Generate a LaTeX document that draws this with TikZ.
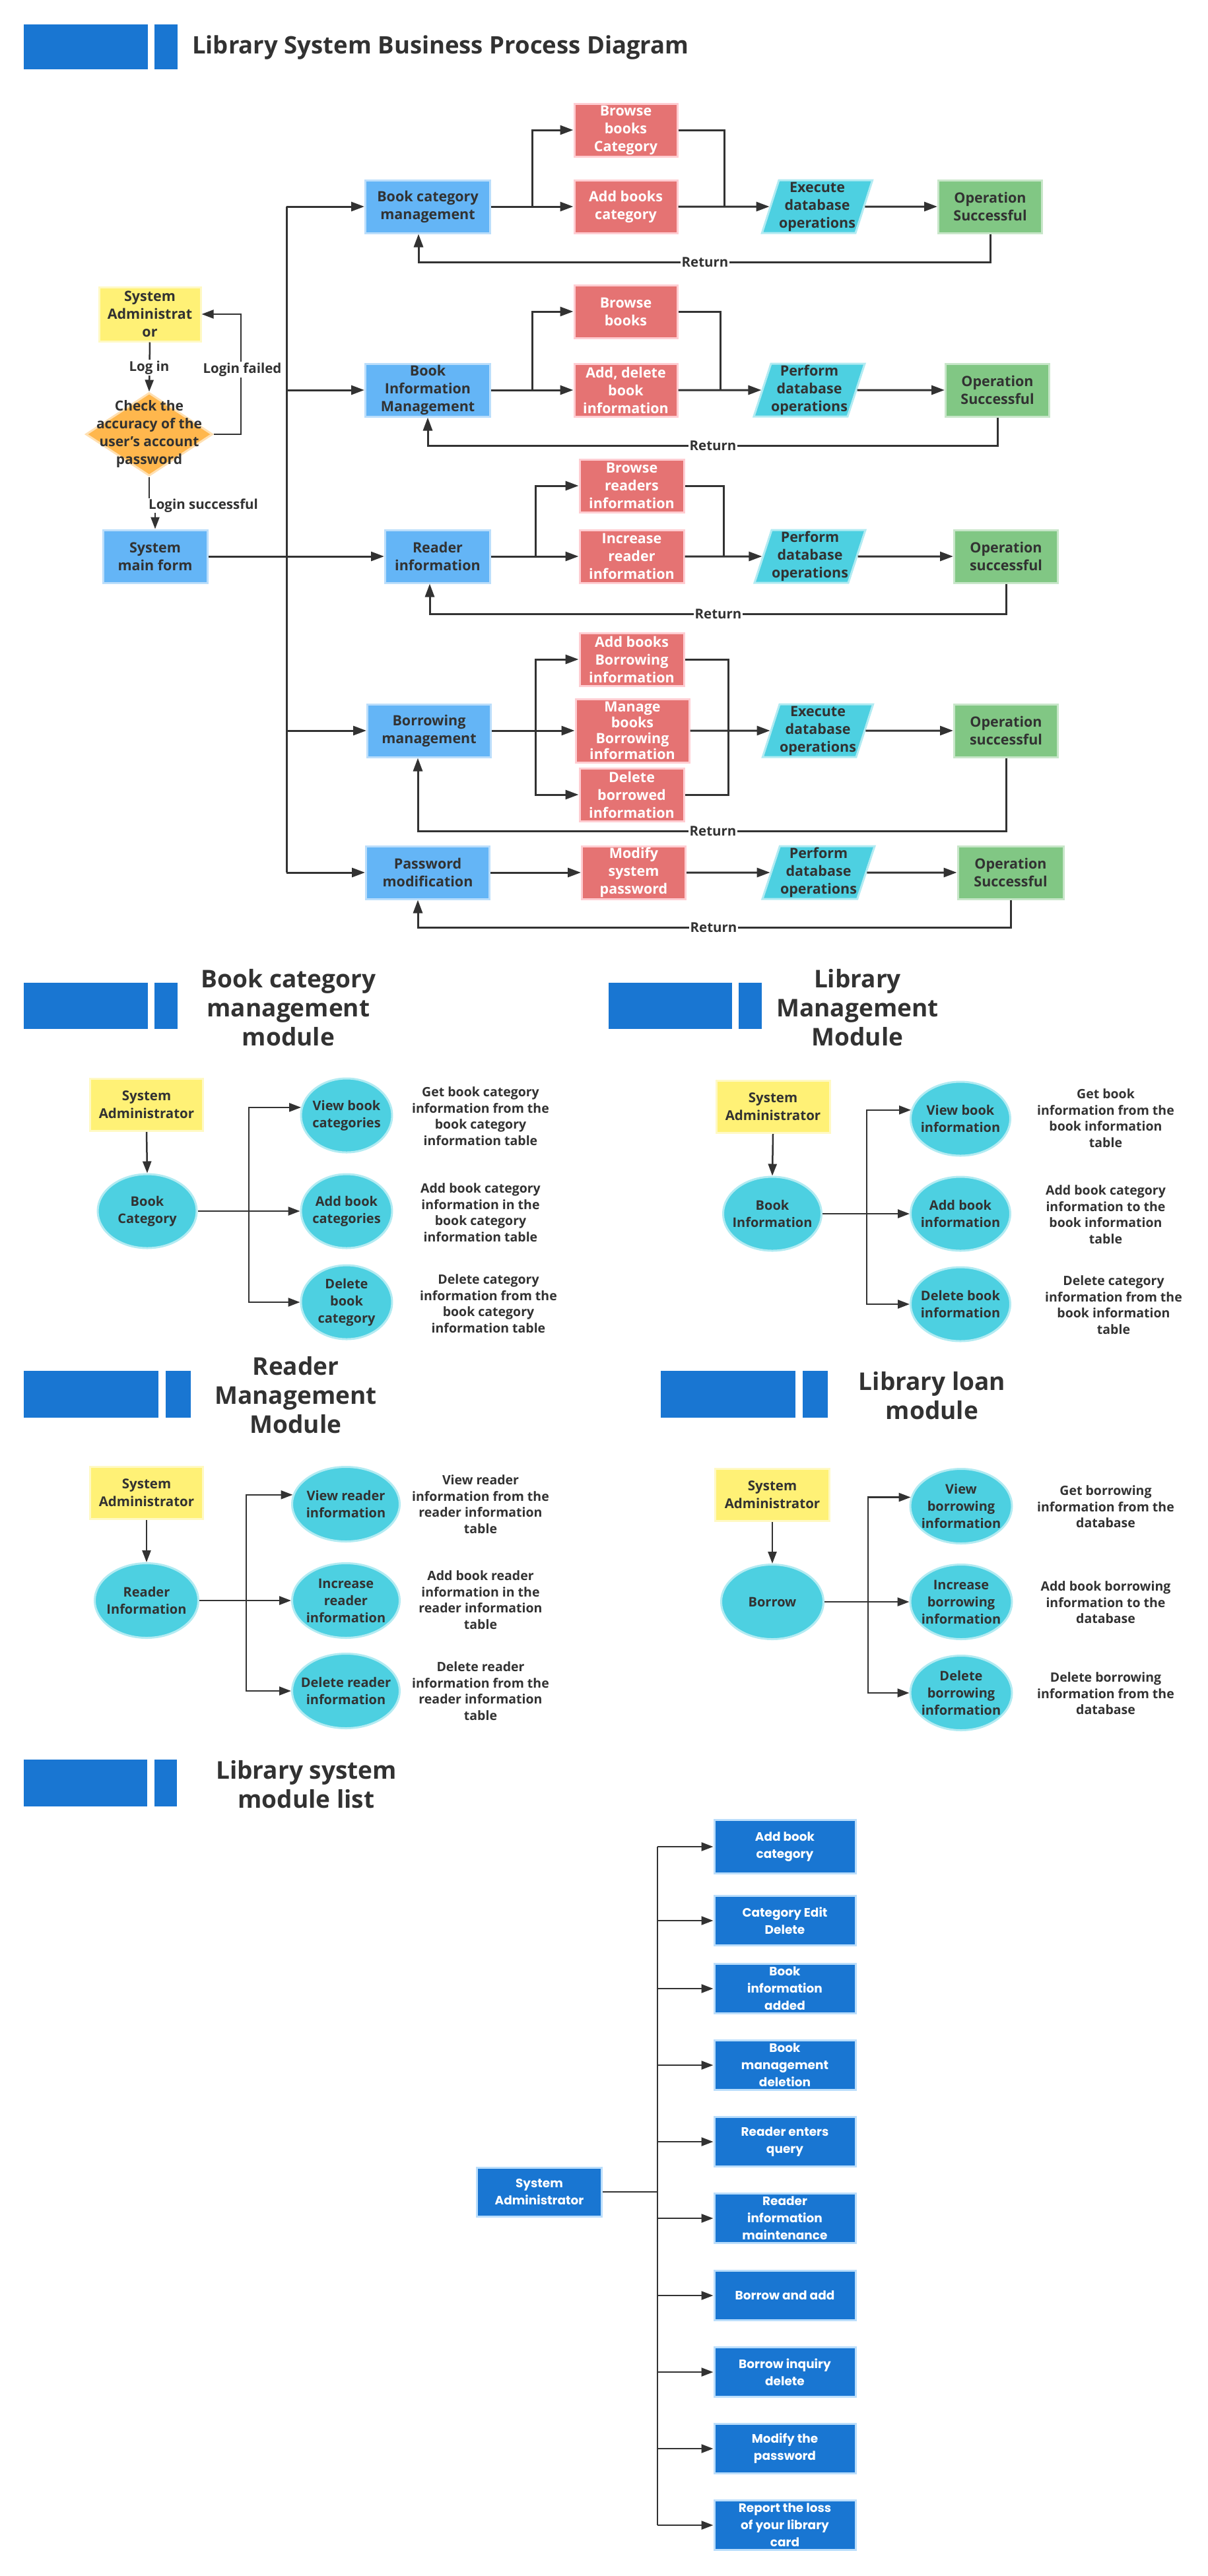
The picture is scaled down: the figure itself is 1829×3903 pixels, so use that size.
\documentclass[tikz,border=0pt]{standalone}
\usepackage{fontspec}
\setmainfont{Open Sans}
\newfontfamily\mlfont{Poppins}
\usetikzlibrary{arrows.meta,shapes.geometric,calc}
\definecolor{hdr}{HTML}{1976D2}
\definecolor{pblue}{HTML}{64B5F6}
\definecolor{pblueb}{HTML}{BBDEFB}
\definecolor{pred}{HTML}{E57373}
\definecolor{predb}{HTML}{FFCDD2}
\definecolor{pcyan}{HTML}{4DD0E1}
\definecolor{pcyanb}{HTML}{B2EBF2}
\definecolor{pgreen}{HTML}{81C784}
\definecolor{pgreenb}{HTML}{C8E6C9}
\definecolor{pyel}{HTML}{FFF176}
\definecolor{pyelb}{HTML}{FFF9C4}
\definecolor{porange}{HTML}{FFB74D}
\definecolor{porangeb}{HTML}{FFE0B2}
\definecolor{ink}{HTML}{323232}
\begin{document}
\begin{tikzpicture}[x=1pt,y=-1pt,
 every node/.style={text=ink},
 base/.style={align=center, inner sep=0pt, line width=3pt, font=\fontsize{21.5}{27}\selectfont\bfseries},
 bluebox/.style={base, rectangle, fill=pblue, draw=pblueb, minimum width=189pt, minimum height=80pt},
 redbox/.style={base, rectangle, fill=pred, draw=predb, text=white, minimum width=156pt, minimum height=80pt},
 parabox/.style={base, trapezium, trapezium left angle=71, trapezium right angle=109, trapezium stretches=true, fill=pcyan, draw=pcyanb, minimum width=167pt, minimum height=80pt},
 greenbox/.style={base, rectangle, fill=pgreen, draw=pgreenb, minimum width=157pt, minimum height=80pt},
 yelbox/.style={base, rectangle, fill=pyel, draw=pyelb, minimum width=171pt, minimum height=79pt},
 ymod/.style={yelbox, font=\fontsize{20.5}{27}\selectfont\bfseries},
 ellnode/.style={ellipse, fill=pcyan, draw=pcyanb, line width=3pt, inner sep=0pt, minimum height=112pt},
 intext/.style={align=center, inner sep=0pt, font=\fontsize{20}{26}\selectfont\bfseries, text=ink},
 desc/.style={align=center, inner sep=0pt, font=\fontsize{19.5}{24.5}\selectfont\bfseries, text=ink},
 modtitle/.style={align=center, inner sep=0pt, font=\fontsize{37}{44}\selectfont\bfseries, text=ink},
 mlbox/.style={rectangle, fill=hdr, draw=pblueb, line width=3pt, text=white, align=center, inner sep=0pt, minimum width=214pt, minimum height=75pt, font=\mlfont\fontsize{18.5}{26}\selectfont\bfseries},
 flow/.style={draw=ink, line width=3pt},
 conn/.style={flow, -{Triangle[length=20pt,width=14pt]}},
 thinline/.style={draw=ink, line width=2.5pt},
 conn2/.style={thinline, -{Triangle[length=18pt,width=13pt]}},
 lbl/.style={fill=white, inner sep=2pt, font=\fontsize{20.5}{24}\selectfont\bfseries, text=ink},
]
\useasboundingbox (0,0) rectangle (1829,3903);
\fill[white] (0,0) rectangle (1829,3903);

% ===== headers =====
\fill[hdr] (36,37) rectangle (224,105);
\fill[hdr] (234,37) rectangle (269,105);
\node[anchor=west, inner sep=0pt, font=\fontsize{36.5}{44}\selectfont\bfseries] (maintitle) at (291,72) {Library System Business Process Diagram};

% ===== login part =====
\node[yelbox, minimum width=154pt, minimum height=82pt] (adm) at (227,476) {System\\Administrat\\or};
\node[diamond, fill=porange, draw=porangeb, line width=3pt, minimum width=192pt, minimum height=126pt, inner sep=0pt,
  label={[intext, font=\fontsize{21}{27}\selectfont\bfseries]center:{Check the\\accuracy of the\\user's account\\password}}] (chk) at (226,658) {};
\node[bluebox, minimum width=158pt] (mf) at (235,843) {System\\main form};

\draw[conn2] (adm.south) -- (chk.north);
\node[lbl] (llogin) at (226,557) {Log in};
\coordinate (lf) at (365,658);
\draw[conn2] (chk.east) -- (lf) |- (adm.east);
\node[lbl] (lfail) at (367,560) {Login failed};
\coordinate (ls) at (226,766);
\draw[conn2] (chk.south) -- (ls) -| (mf.north);
\node[lbl, anchor=west, inner sep=1pt] (lsucc) at (224,766) {Login successful};

% ===== trunk =====
\coordinate (tk) at (434,313);
\coordinate (tkend) at (434,1322);
\draw[flow] (mf.east) -- (mf.east -| tk);
\draw[flow] (tk) -- (tkend);

% ===== row 1 =====
\node[bluebox] (bcm) at (648,313) {Book category\\management};
\node[redbox] (r1a) at (948,197) {Browse\\books\\Category};
\node[redbox] (r1b) at (948,313) {Add books\\category};
\node[parabox] (p1) at (1238,313) {Execute\\database\\operations};
\node[greenbox] (g1) at (1500,313) {Operation\\Successful};
\coordinate (b1) at (806,313);
\coordinate (m1) at (1097,313);
\coordinate (q1) at (634,397);
\draw[conn] (tk) -- (bcm.west);
\draw[conn] (bcm.east) -- (r1b.west);
\draw[conn] (b1) |- (r1a.west);
\draw[conn] (r1b.east) -- (p1.west);
\draw[flow] (r1a.east) -| (m1);
\draw[conn] (p1.east) -- (g1.west);
\draw[conn] (g1.south) |- (q1) -- (q1 |- bcm.south);
\node[lbl] (ret1) at (1068,397) {Return};

% ===== row 2 =====
\node[bluebox] (bim) at (648,591) {Book\\Information\\Management};
\node[redbox] (r2a) at (948,472) {Browse\\books};
\node[redbox] (r2b) at (948,591) {Add, delete\\book\\information};
\node[parabox] (p2) at (1226,591) {Perform\\database\\operations};
\node[greenbox] (g2) at (1511,591) {Operation\\Successful};
\coordinate (b2) at (806,591);
\coordinate (m2) at (1091,591);
\coordinate (q2) at (648,675);
\draw[conn] (bim.west -| tk) -- (bim.west);
\draw[conn] (bim.east) -- (r2b.west);
\draw[conn] (b2) |- (r2a.west);
\draw[conn] (r2b.east) -- (p2.west);
\draw[flow] (r2a.east) -| (m2);
\draw[conn] (p2.east) -- (g2.west);
\draw[conn] (g2.south) |- (q2) -- (q2 |- bim.south);
\node[lbl] (ret2) at (1080,675) {Return};

% ===== row 3 =====
\node[bluebox, minimum width=159pt] (rdi) at (663,843) {Reader\\information};
\node[redbox, minimum width=158pt] (r3a) at (957,736) {Browse\\readers\\information};
\node[redbox, minimum width=158pt] (r3b) at (957,843) {Increase\\reader\\information};
\node[parabox, minimum width=168pt] (p3) at (1227,843) {Perform\\database\\operations};
\node[greenbox] (g3) at (1524,843) {Operation\\successful};
\coordinate (b3) at (811,843);
\coordinate (m3) at (1096,843);
\coordinate (q3) at (651,930);
\draw[conn] (rdi.west -| tk) -- (rdi.west);
\draw[conn] (rdi.east) -- (r3b.west);
\draw[conn] (b3) |- (r3a.west);
\draw[conn] (r3b.east) -- (p3.west);
\draw[flow] (r3a.east) -| (m3);
\draw[conn] (p3.east) -- (g3.west);
\draw[conn] (g3.south) |- (q3) -- (q3 |- rdi.south);
\node[lbl] (ret3) at (1088,930) {Return};

% ===== row 4 =====
\node[bluebox, minimum width=187pt] (bor) at (650,1107) {Borrowing\\management};
\node[redbox, minimum width=158pt] (r4a) at (957,999) {Add books\\Borrowing\\information};
\node[redbox, minimum width=172pt, minimum height=96pt, font=\fontsize{21.5}{24}\selectfont\bfseries] (r4b) at (958,1107) {Manage\\books\\Borrowing\\information};
\node[redbox, minimum width=158pt] (r4c) at (957,1204) {Delete\\borrowed\\information};
\node[parabox, minimum width=166pt] (p4) at (1239,1107) {Execute\\database\\operations};
\node[greenbox] (g4) at (1524,1107) {Operation\\successful};
\coordinate (b4) at (811,1107);
\coordinate (m4) at (1103,1107);
\coordinate (q4) at (633,1259);
\draw[conn] (bor.west -| tk) -- (bor.west);
\draw[conn] (bor.east) -- (r4b.west);
\draw[conn] (b4) |- (r4a.west);
\draw[conn] (b4) |- (r4c.west);
\draw[conn] (r4b.east) -- (p4.west);
\draw[flow] (r4a.east) -| (m4);
\draw[flow] (r4c.east) -| (m4);
\draw[conn] (p4.east) -- (g4.west);
\draw[conn] (g4.south) |- (q4) -- (q4 |- bor.south);
\node[lbl] (ret4) at (1080,1259) {Return};

% ===== row 5 =====
\node[bluebox, minimum width=187pt] (pwd) at (648,1322) {Password\\modification};
\node[redbox, minimum width=157pt] (r5) at (960,1322) {Modify\\system\\password};
\node[parabox, minimum width=170pt] (p5) at (1240,1322) {Perform\\database\\operations};
\node[greenbox, minimum width=160pt] (g5) at (1531,1322) {Operation\\Successful};
\coordinate (q5) at (633,1405);
\draw[conn] (tkend) -- (pwd.west);
\draw[conn] (pwd.east) -- (r5.west);
\draw[conn] (r5.east) -- (p5.west);
\draw[conn] (p5.east) -- (g5.west);
\draw[conn] (g5.south) |- (q5) -- (q5 |- pwd.south);
\node[lbl] (ret5) at (1081,1405) {Return};

% ===== module 1: Book category management =====
\fill[hdr] (36,1489) rectangle (224,1559);
\fill[hdr] (234,1489) rectangle (269,1559);
\node[modtitle] (t1) at (437,1527) {Book category\\management\\module};
\node[ymod] (a1) at (222,1674) {System\\Administrator};
\node[ellnode, minimum width=150pt, label={[intext]center:{Book\\Category}}] (e1) at (223,1835) {};
\node[ellnode, minimum width=138pt, label={[intext]center:{View book\\categories}}] (e1a) at (525,1690) {};
\node[ellnode, minimum width=138pt, label={[intext]center:{Add book\\categories}}] (e1b) at (525,1835) {};
\node[ellnode, minimum width=138pt, label={[intext]center:{Delete\\book\\category}}] (e1c) at (525,1973) {};
\coordinate (br1) at (377,1835);
\draw[conn2] (a1.south) -- (e1.north);
\draw[conn2] (e1.east) -- (e1b.west);
\draw[conn2] (br1) |- (e1a.170);
\draw[conn2] (br1) |- (e1c.west);
\node[desc] (d1a) at (728,1691) {Get book category\\information from the\\book category\\information table};
\node[desc] (d1b) at (728,1837) {Add book category\\information in the\\book category\\information table};
\node[desc] (d1c) at (740,1975) {Delete category\\information from the\\book category\\information table};

% ===== module 2: Library Management Module =====
\fill[hdr] (922,1489) rectangle (1109,1559);
\fill[hdr] (1119,1489) rectangle (1154,1559);
\node[modtitle] (t2) at (1299,1527) {Library\\Management\\Module};
\node[ymod, minimum width=172pt] (a2) at (1171,1677) {System\\Administrator};
\node[ellnode, minimum width=149pt, label={[intext]center:{Book\\Information}}] (e2) at (1170,1839) {};
\node[ellnode, minimum width=151pt, label={[intext]center:{View book\\information}}] (e2a) at (1455,1695) {};
\node[ellnode, minimum width=151pt, label={[intext]center:{Add book\\information}}] (e2b) at (1455,1839) {};
\node[ellnode, minimum width=151pt, label={[intext]center:{Delete book\\information}}] (e2c) at (1455,1976) {};
\coordinate (br2) at (1313,1839);
\draw[conn2] (a2.south) -- (e2.north);
\draw[conn2] (e2.east) -- (e2b.west);
\draw[conn2] (br2) |- (e2a.170);
\draw[conn2] (br2) |- (e2c.west);
\node[desc] (d2a) at (1675,1694) {Get book\\information from the\\book information\\table};
\node[desc] (d2b) at (1675,1840) {Add book category\\information to the\\book information\\table};
\node[desc] (d2c) at (1687,1977) {Delete category\\information from the\\book information\\table};

% ===== module 3: Reader Management Module =====
\fill[hdr] (36,2077) rectangle (240,2148);
\fill[hdr] (251,2077) rectangle (289,2148);
\node[modtitle] (t3) at (448,2114) {Reader\\Management\\Module};
\node[ymod] (a3) at (222,2262) {System\\Administrator};
\node[ellnode, minimum width=157pt, minimum height=113pt, label={[intext]center:{Reader\\Information}}] (e3) at (222,2425) {};
\node[ellnode, minimum width=163pt, minimum height=113pt, label={[intext]center:{View reader\\information}}] (e3a) at (524,2279) {};
\node[ellnode, minimum width=163pt, minimum height=113pt, label={[intext]center:{Increase\\reader\\information}}] (e3b) at (524,2425) {};
\node[ellnode, minimum width=163pt, minimum height=113pt, label={[intext]center:{Delete reader\\information}}] (e3c) at (524,2562) {};
\coordinate (br3) at (373,2425);
\draw[conn2] (a3.south) -- (e3.north);
\draw[conn2] (e3.east) -- (e3b.west);
\draw[conn2] (br3) |- (e3a.170);
\draw[conn2] (br3) |- (e3c.west);
\node[desc] (d3a) at (728,2279) {View reader\\information from the\\reader information\\table};
\node[desc] (d3b) at (728,2424) {Add book reader\\information in the\\reader information\\table};
\node[desc] (d3c) at (728,2562) {Delete reader\\information from the\\reader information\\table};

% ===== module 4: Library loan module =====
\fill[hdr] (1001,2077) rectangle (1205,2148);
\fill[hdr] (1216,2077) rectangle (1254,2148);
\node[modtitle] (t4) at (1412,2115) {Library loan\\module};
\node[ymod, minimum width=173pt] (a4) at (1170,2265) {System\\Administrator};
\node[ellnode, minimum width=155pt, minimum height=113pt, label={[intext]center:{Borrow}}] (e4) at (1170,2427) {};
\node[ellnode, minimum width=154pt, minimum height=113pt, label={[intext]center:{View\\borrowing\\information}}] (e4a) at (1456,2282) {};
\node[ellnode, minimum width=154pt, minimum height=113pt, label={[intext]center:{Increase\\borrowing\\information}}] (e4b) at (1456,2427) {};
\node[ellnode, minimum width=154pt, minimum height=113pt, label={[intext]center:{Delete\\borrowing\\information}}] (e4c) at (1456,2565) {};
\coordinate (br4) at (1315,2427);
\draw[conn2] (a4.south) -- (e4.north);
\draw[conn2] (e4.east) -- (e4b.west);
\draw[conn2] (br4) |- (e4a.170);
\draw[conn2] (br4) |- (e4c.west);
\node[desc] (d4a) at (1675,2283) {Get borrowing\\information from the\\database};
\node[desc] (d4b) at (1675,2428) {Add book borrowing\\information to the\\database};
\node[desc] (d4c) at (1675,2566) {Delete borrowing\\information from the\\database};

% ===== module list =====
\fill[hdr] (36,2666) rectangle (223,2737);
\fill[hdr] (234,2666) rectangle (268,2737);
\node[modtitle] (t5) at (464,2704) {Library system\\module list};
\node[mlbox, minimum width=189pt, minimum height=74pt] (ms) at (817,3321) {System\\Administrator};
\node[mlbox, minimum height=81pt] (l1) at (1189,2798) {Add book\\category};
\node[mlbox] (l2) at (1189,2910) {Category Edit\\Delete};
\node[mlbox] (l3) at (1189,3013) {Book\\information\\added};
\node[mlbox] (l4) at (1189,3129) {Book\\management\\deletion};
\node[mlbox] (l5) at (1189,3245) {Reader enters\\query};
\node[mlbox] (l6) at (1189,3361) {Reader\\information\\maintenance};
\node[mlbox] (l7) at (1189,3478) {Borrow and add};
\node[mlbox] (l8) at (1189,3594) {Borrow inquiry\\delete};
\node[mlbox] (l9) at (1189,3710) {Modify the\\password};
\node[mlbox] (l10) at (1189,3826) {Report the loss\\of your library\\card};
\coordinate (mt) at (996,3321);
\draw[thinline] (ms.east) -- (mt);
\draw[thinline] (l1.west -| mt) -- (l10.west -| mt);
\foreach \k in {1,...,10} {\draw[conn2] (l\k.west -| mt) -- (l\k.west);}
\end{tikzpicture}
\end{document}
